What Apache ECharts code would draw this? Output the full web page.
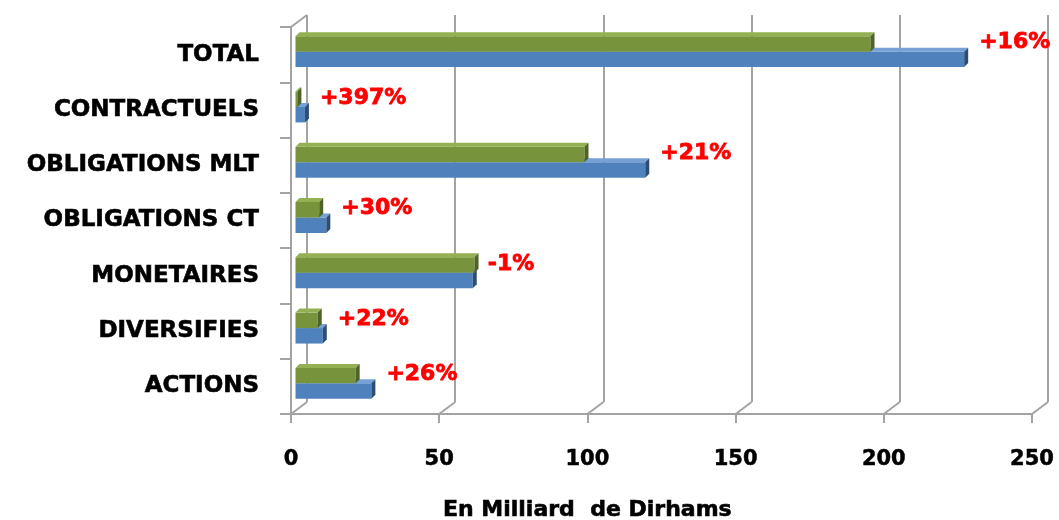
<!DOCTYPE html>
<html>
<head>
<meta charset="utf-8">
<script src="https://cdn.jsdelivr.net/npm/echarts@6/dist/echarts.min.js"></script>
<style>
    html, body { margin: 0; padding: 0; background: #fff; }
    #chart { width: 1059px; height: 520px; }
</style>
</head>
<body>
<div id="chart"></div>
<script>
// 数据
const categories = ['ACTIONS', 'DIVERSIFIES', 'MONETAIRES', 'OBLIGATIONS CT', 'OBLIGATIONS MLT', 'CONTRACTUELS', 'TOTAL'];
const prevValues = [20.3, 7.5, 60.4, 8.0, 97.5, 0.64, 194];
const currValues = [25.6, 9.2, 59.8, 10.4, 118, 3.18, 225.6];
const changeLabels = ['+26%', '+22%', '-1%', '+30%', '+21%', '+397%', '+16%'];
const xTicks = [0, 50, 100, 150, 200, 250];

const FONT = '"DejaVu Sans", Verdana, sans-serif';
const GRID_COLOR = '#a3a3a3';
const DEPTH = 4;          // 柱子的3D厚度
const WALL_DX = 16;       // 背墙相对前面的偏移
const WALL_DY = 12;

const greenColors = { front: '#77933c', top: '#93b152', side: '#4f6228' };
const blueColors = { front: '#4f81bd', top: '#76a0d6', side: '#2c4d75' };

function bar3d(colors, upper, withLabel) {
    return function (params, api) {
        const v = api.value(0);
        const c = api.value(1);
        const p0 = api.coord([0, c]);
        const p1 = api.coord([v, c]);
        const bandH = api.size([0, 1])[1];
        const h = bandH * 0.28;
        const y0 = upper ? p0[1] - h : p0[1];
        const x0 = p0[0];
        const x1 = Math.max(p1[0], x0 + 1);
        const d = DEPTH;
        const children = [
            {
                type: 'rect',
                shape: { x: x0, y: y0, width: x1 - x0, height: h },
                style: { fill: colors.front }
            },
            {
                type: 'polygon',
                shape: { points: [[x0, y0], [x0 + d, y0 - d], [x1 + d, y0 - d], [x1, y0]] },
                style: { fill: colors.top }
            },
            {
                type: 'polygon',
                shape: { points: [[x1, y0], [x1 + d, y0 - d], [x1 + d, y0 + h - d], [x1, y0 + h]] },
                style: { fill: colors.side }
            }
        ];
        if (withLabel) {
            children.push({
                type: 'text',
                z2: 100,
                style: {
                    text: changeLabels[params.dataIndex],
                    x: x1 + d + 11,
                    y: p1[1] - 9,
                    fill: '#ff0000',
                    stroke: '#ff0000',
                    lineWidth: 0.8,
                    font: 'bold 22px ' + FONT,
                    align: 'left',
                    verticalAlign: 'middle'
                }
            });
        }
        return { type: 'group', children: children };
    };
}

function wallEdges(params, api) {
    const v = api.value(0);
    const b = api.coord([v, 0]);
    const lineStyle = { stroke: GRID_COLOR, lineWidth: 2 };
    const children = [{
        type: 'line',
        shape: { x1: b[0], y1: b[1], x2: b[0] - WALL_DX, y2: b[1] + WALL_DY },
        style: lineStyle
    }];
    if (v === 0) {
        const t = api.coord([0, 1]);
        children.push({
            type: 'line',
            shape: { x1: t[0], y1: t[1], x2: t[0] - WALL_DX, y2: t[1] + WALL_DY },
            style: lineStyle
        });
    }
    return { type: 'group', children: children };
}

const chart = echarts.init(document.getElementById('chart'));

const hiddenAxis = {
    axisLine: { show: false },
    axisTick: { show: false },
    axisLabel: { show: false },
    splitLine: { show: false }
};

const option = {
    animation: false,
    backgroundColor: '#fff',
    title: {
        text: 'En Milliard  de Dirhams',
        left: 443,
        top: 499,
        padding: 0,
        textStyle: {
            fontFamily: FONT, fontSize: 22, fontWeight: 'bold', color: '#000',
            textBorderColor: '#000', textBorderWidth: 0.6
        }
    },
    grid: [
        // 前面 (坐标轴)
        { left: 291, right: 27, top: 27, bottom: 106 },
        // 背墙 (网格线)
        { left: 307, right: 11, top: 15, bottom: 118 },
        // 柱子
        { left: 295.5, right: 22.5, top: 24, bottom: 109 }
    ],
    xAxis: [
        {
            gridIndex: 0,
            type: 'value',
            min: 0,
            max: 250,
            interval: 50,
            axisLine: { show: true, lineStyle: { color: GRID_COLOR, width: 2 } },
            axisTick: { show: true, length: 9, lineStyle: { color: GRID_COLOR, width: 2 } },
            axisLabel: {
                margin: 35,
                color: '#000',
                fontFamily: FONT,
                fontSize: 21,
                fontWeight: 'bold',
                textBorderColor: '#000',
                textBorderWidth: 0.5,
                formatter: value => xTicks.includes(value) ? String(value) : ''
            },
            splitLine: { show: false }
        },
        {
            gridIndex: 1,
            type: 'value',
            min: 0,
            max: 250,
            interval: 50,
            axisLine: { show: false },
            axisTick: { show: false },
            axisLabel: { show: false },
            splitLine: { show: true, lineStyle: { color: GRID_COLOR, width: 2 } }
        },
        Object.assign({ gridIndex: 2, type: 'value', min: 0, max: 250 }, hiddenAxis)
    ],
    yAxis: [
        {
            gridIndex: 0,
            type: 'category',
            data: categories,
            axisLine: { show: true, lineStyle: { color: GRID_COLOR, width: 2 } },
            axisTick: { show: true, length: 11, lineStyle: { color: GRID_COLOR, width: 2 } },
            axisLabel: {
                margin: 32,
                color: '#000',
                fontFamily: FONT,
                fontSize: 23,
                fontWeight: 'bold',
                textBorderColor: '#000',
                textBorderWidth: 0.6
            },
            splitLine: { show: false }
        },
        Object.assign({ gridIndex: 1, type: 'value', min: 0, max: 1 }, hiddenAxis),
        Object.assign({ gridIndex: 2, type: 'category', data: categories }, hiddenAxis)
    ],
    series: [
        {
            type: 'custom',
            name: 'wall',
            xAxisIndex: 1,
            yAxisIndex: 1,
            silent: true,
            renderItem: wallEdges,
            data: xTicks.map(v => [v, 0])
        },
        {
            type: 'custom',
            name: 'current',
            xAxisIndex: 2,
            yAxisIndex: 2,
            silent: true,
            encode: { x: 0, y: 1 },
            renderItem: bar3d(blueColors, false, true),
            data: currValues.map((v, i) => [v, i])
        },
        {
            type: 'custom',
            name: 'previous',
            xAxisIndex: 2,
            yAxisIndex: 2,
            silent: true,
            encode: { x: 0, y: 1 },
            renderItem: bar3d(greenColors, true, false),
            data: prevValues.map((v, i) => [v, i])
        }
    ]
};

chart.setOption(option);
</script>
</body>
</html>
